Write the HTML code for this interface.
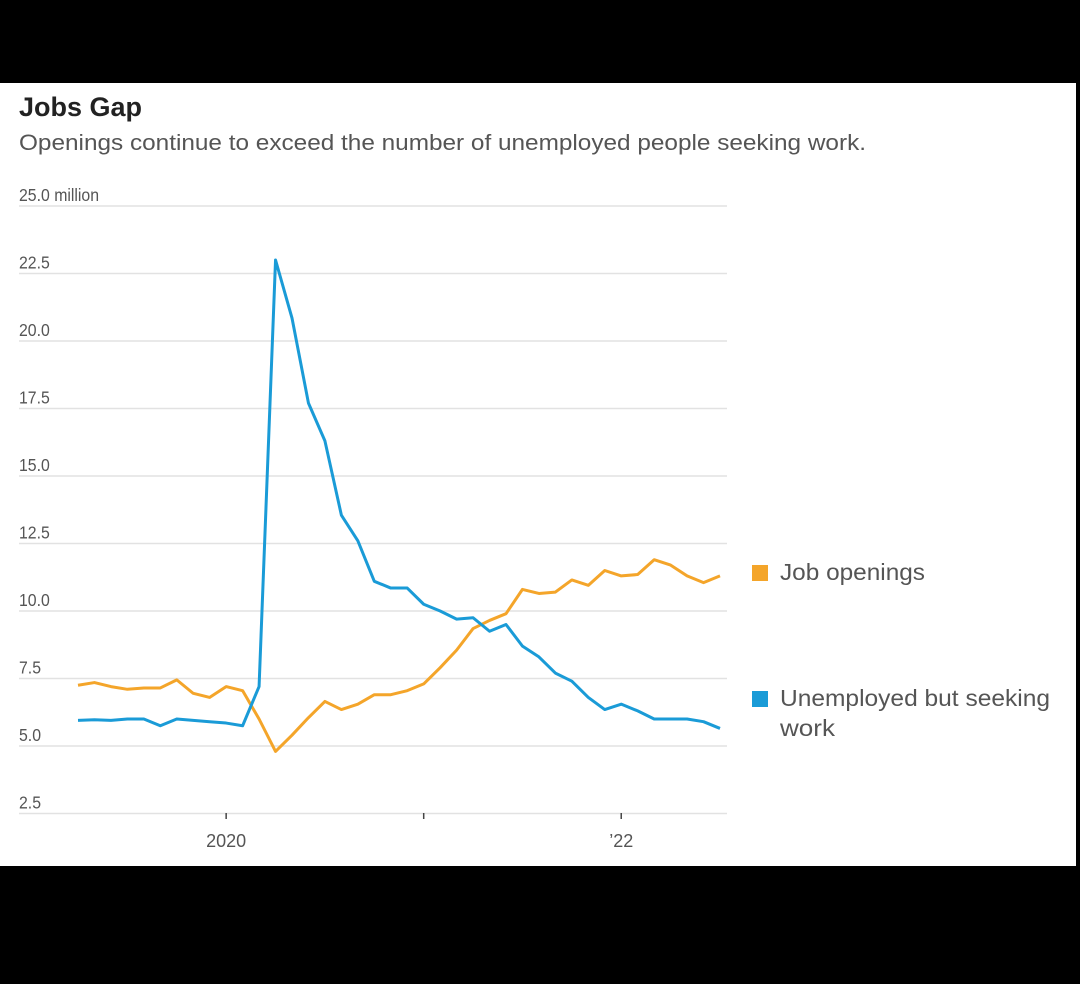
<!DOCTYPE html>
<html><head><meta charset="utf-8"><style>
body{margin:0;background:#000;width:1080px;height:984px;overflow:hidden;font-family:"Liberation Sans",sans-serif}
#card{position:absolute;left:0;top:83px;width:1076px;height:783px;background:#fff}
</style></head><body>
<div id="card">
<svg width="1076" height="783" viewBox="0 83 1076 783" id="chart">
<text x="19" y="116" font-size="27" font-weight="bold" fill="#222" textLength="123" lengthAdjust="spacingAndGlyphs">Jobs Gap</text>
<text x="19" y="150" font-size="22" fill="#555" textLength="847" lengthAdjust="spacingAndGlyphs">Openings continue to exceed the number of unemployed people seeking work.</text>
<g id="grid"></g><g id="lines"></g>
<g>
<rect x="752" y="565" width="16" height="16" fill="#f4a52a"/>
<text x="780" y="580" font-size="23" fill="#555" textLength="145" lengthAdjust="spacingAndGlyphs">Job openings</text>
<rect x="752" y="691" width="16" height="16" fill="#1a9bd7"/>
<text x="780" y="706" font-size="23" fill="#555" textLength="270" lengthAdjust="spacingAndGlyphs">Unemployed but seeking</text>
<text x="780" y="736" font-size="23" fill="#555" textLength="55" lengthAdjust="spacingAndGlyphs">work</text>
</g>
</svg></div>
<script>
const yTicks=[25,22.5,20,17.5,15,12.5,10,7.5,5,2.5];
const yTickLabels=["25.0 million","22.5","20.0","17.5","15.0","12.5","10.0","7.5","5.0","2.5"];
const xTickIdx=[9,21,33];
const xTickLabels=["2020","","’22"];
const openings=[7.25,7.35,7.2,7.1,7.15,7.15,7.45,6.95,6.8,7.2,7.05,6.0,4.8,5.4,6.05,6.65,6.35,6.55,6.9,6.9,7.05,7.3,7.9,8.55,9.35,9.65,9.9,10.8,10.65,10.7,11.15,10.95,11.5,11.3,11.35,11.9,11.7,11.3,11.05,11.3];
const unemployed=[5.95,5.97,5.95,6.0,6.0,5.75,6.0,5.95,5.9,5.85,5.75,7.2,23.0,20.85,17.7,16.3,13.55,12.6,11.1,10.85,10.85,10.25,10.0,9.7,9.75,9.25,9.5,8.7,8.3,7.7,7.4,6.8,6.35,6.55,6.3,6.0,6.0,6.0,5.9,5.65];
const NS="http://www.w3.org/2000/svg";
const X=i=>78+i*(642/39);
const Y=v=>206+(25-v)*27.0;
const grid=document.getElementById('grid'),lines=document.getElementById('lines');
function mk(t,a,p){const e=document.createElementNS(NS,t);for(const k in a)e.setAttribute(k,a[k]);p.appendChild(e);return e;}
yTicks.forEach((v,k)=>{
 const l=mk('line',{x1:19,x2:727,y1:Y(v),y2:Y(v),stroke:'#e2e2e2','stroke-width':1.5},grid);
 
 
 const t=mk('text',{x:19,y:Y(v)-5,'font-size':18,fill:'#555'},grid);
 
 
 t.setAttribute('transform',`translate(19 0) scale(0.88 1) translate(-19 0)`);
 t.textContent=yTickLabels[k];
});
xTickIdx.forEach((i,k)=>{
 const l=mk('line',{x1:X(i),x2:X(i),y1:813,y2:819,stroke:'#444','stroke-width':1.5},grid);
 
 
 const t=mk('text',{x:X(i),y:847,'font-size':18,fill:'#555','text-anchor':'middle'},grid);
 
 
 t.textContent=xTickLabels[k];
});
function series(d,c,n){
 const p=mk('polyline',{points:d.map((v,i)=>X(i)+','+Y(v)).join(' '),fill:'none',stroke:c,'stroke-width':3,'stroke-linejoin':'round'},lines);
 
 
}
series(openings,'#f4a52a','job-openings-line');
series(unemployed,'#1a9bd7','unemployed-line');
</script>
</body></html>
